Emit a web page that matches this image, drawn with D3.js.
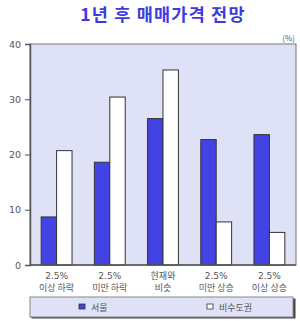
<!DOCTYPE html>
<html>
<head>
<meta charset="utf-8">
<script src="https://cdn.jsdelivr.net/npm/d3@7"></script>
<style>
  body { margin: 0; background: #fff; }
  svg { display: block; font-family: 'Noto Sans CJK KR', 'Noto Sans', sans-serif; }
</style>
</head>
<body>
<div id="myPlot"></div>
<script>
// data
const categories = [['2.5%', '이상 하락'], ['2.5%', '미만 하락'], ['현재와', '비슷'], ['2.5%', '미만 상승'], ['2.5%', '이상 상승']];
const seriesNames = ['서울', '비수도권'];
const seoul = [8.7, 18.6, 26.5, 22.7, 23.6];
const region = [20.7, 30.4, 35.3, 7.8, 5.9];
const yTicks = [0, 10, 20, 30, 40];

const width = 300, height = 321;
const margin = {top: 44, right: 4, bottom: 56, left: 30};
const innerW = width - margin.left - margin.right;
const innerH = height - margin.top - margin.bottom;
const colors = ['#4343e4', '#ffffff'];

const svg = d3.select('#myPlot')
  .append('svg')
    .attr('width', width)
    .attr('height', height);

// title
svg.append('text')
  .attr('x', 163)
  .attr('y', 21)
  .attr('text-anchor', 'middle')
  .style('font-size', '17.5px')
  .style('font-weight', 'bold')
  .style('letter-spacing', '1.2px')
  .style('fill', '#3b3be0')
  .text('1년 후 매매가격 전망');

svg.append('text')
  .attr('x', 295)
  .attr('y', 41)
  .attr('text-anchor', 'end')
  .style('font-size', '8px')
  .style('fill', '#555')
  .text('(%)');

const g = svg.append('g')
  .attr('transform', 'translate(' + margin.left + ',' + margin.top + ')');

const x = d3.scaleBand()
  .domain(d3.range(categories.length))
  .range([0, innerW])
  .paddingInner(0.42)
  .paddingOuter(0.21);

const xs = d3.scaleBand()
  .domain(seriesNames)
  .range([0, x.bandwidth()]);

const y = d3.scaleLinear()
  .domain([0, 40])
  .range([innerH, 0]);

// plot background
g.append('rect')
  .attr('width', innerW)
  .attr('height', innerH)
  .attr('fill', '#dfe2f7')
  .attr('stroke', '#777')
  .attr('stroke-width', 1);

// bars
const data = categories.map((c, i) => [seoul[i], region[i]]);
const groups = g.selectAll('g.grp')
  .data(data)
  .enter()
  .append('g')
  .attr('transform', (d, i) => 'translate(' + x(i) + ',0)');

groups.selectAll('rect')
  .data(d => d.map((v, j) => ({name: seriesNames[j], value: v, j: j})))
  .enter()
  .append('rect')
  .attr('x', d => xs(d.name))
  .attr('y', d => y(d.value))
  .attr('width', xs.bandwidth())
  .attr('height', d => innerH - y(d.value))
  .attr('fill', d => colors[d.j])
  .attr('stroke', '#333')
  .attr('stroke-width', 1);

// y axis
const yAxis = g.append('g')
  .call(d3.axisLeft(y).tickValues(yTicks).tickSize(5).tickPadding(4));
yAxis.select('.domain').attr('stroke', '#555').attr('stroke-width', 1.5);
yAxis.selectAll('line').attr('stroke', '#555');
yAxis.selectAll('text')
  .style('font-size', '9.5px')
  .style('fill', '#555')
  .style('font-family', 'Verdana, DejaVu Sans, sans-serif');

// x axis
const xAxis = g.append('g')
  .attr('transform', 'translate(0,' + innerH + ')');
xAxis.append('line')
  .attr('x1', 0).attr('x2', innerW)
  .attr('stroke', '#555').attr('stroke-width', 1.5);

// two-line category labels, each line its own text
[0, 1].forEach(k => {
  xAxis.selectAll('text.lbl' + k)
    .data(categories)
    .enter()
    .append('text')
    .attr('class', 'lbl' + k)
    .attr('x', (d, i) => x(i) + x.bandwidth() / 2)
    .attr('y', 14 + k * 11.5)
    .attr('text-anchor', 'middle')
    .style('font-size', '9px')
    .style('fill', '#555')
    .style('font-family', d => /^[0-9]/.test(d[k]) ? 'DejaVu Sans, sans-serif' : null)
    .text(d => d[k]);
});

// legend
const lg = svg.append('g')
  .attr('transform', 'translate(30,297)');
lg.append('rect')
  .attr('x', 1.5).attr('y', 1.5)
  .attr('width', 264).attr('height', 20)
  .attr('fill', '#444');
lg.append('rect')
  .attr('width', 263).attr('height', 20)
  .attr('fill', '#dfe2f7')
  .attr('stroke', '#888');

const items = lg.selectAll('g.item')
  .data(seriesNames)
  .enter()
  .append('g')
  .attr('transform', (d, i) => 'translate(' + (i === 0 ? 49 : 177) + ',10)');
items.append('rect')
  .attr('x', 0).attr('y', -3)
  .attr('width', 6).attr('height', 5)
  .attr('fill', (d, i) => colors[i])
  .attr('stroke', '#333')
  .attr('stroke-width', 0.8);
items.append('text')
  .attr('x', 12)
  .attr('y', 3.5)
  .style('font-size', '9px')
  .style('fill', '#555')
  .text(d => d);
</script>
</body>
</html>
